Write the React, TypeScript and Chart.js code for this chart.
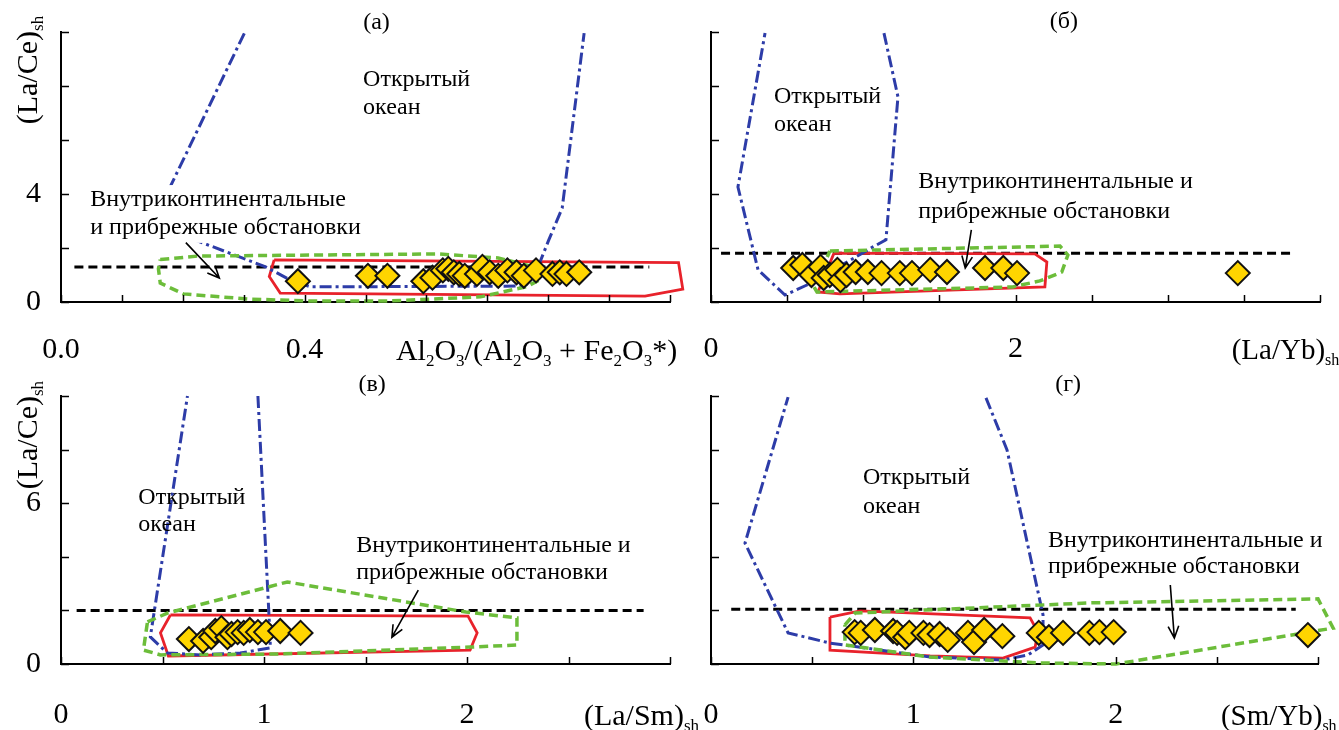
import React, { useEffect, useRef } from 'react';
import { Chart, registerables } from 'chart.js';

Chart.register(...registerables);

const FONT = "'Liberation Serif', 'Times New Roman', serif";
const BLUE = '#2d3ca8';
const RED = '#e8222b';
const GREEN = '#6cbd3a';
const GOLD = '#ffd500';

// ---------- Panel (а): Al2O3/(Al2O3+Fe2O3*) ----------
const aSampleX = [0.389, 0.504, 0.536, 0.595, 0.61, 0.627, 0.636, 0.645, 0.654, 0.663, 0.683, 0.692, 0.704, 0.718, 0.733, 0.748, 0.76, 0.78, 0.807, 0.819, 0.83, 0.851];
const aSampleY = [0.77, 0.97, 0.97, 0.77, 0.9, 1.17, 1.23, 1.1, 1.04, 0.97, 1.04, 1.3, 1.1, 0.97, 1.17, 1.1, 0.97, 1.17, 1.04, 1.1, 1.04, 1.1];
const aOceanX = [0.301, 0.15, 0.336, 0.377, 0.41, 0.762, 0.78, 0.801, 0.823, 0.859];
const aOceanY = [9.95, 2.9, 1.3, 0.81, 0.56, 0.59, 1.11, 2.3, 3.48, 9.96];
const aRedX = [0.35, 1.014, 1.021, 0.959, 0.36, 0.342];
const aRedY = [1.56, 1.46, 0.48, 0.22, 0.33, 0.94];
const aGreenX = [0.163, 0.224, 0.619, 0.718, 0.777, 0.788, 0.765, 0.689, 0.542, 0.406, 0.307, 0.201, 0.163, 0.16];
const aGreenY = [1.57, 1.7, 1.78, 1.63, 1.3, 0.85, 0.57, 0.19, 0.04, 0.04, 0.11, 0.3, 0.7, 1.23];
const aRefX = [0.022, 0.966];
const aRefY = [1.3, 1.3];
const aXTickLabels = ['0.0', '0.4'];
const aYTickLabels = ['0', '4'];

// ---------- Panel (б): (La/Yb)sh ----------
const bSampleX = [0.54, 0.6, 0.66, 0.72, 0.74, 0.78, 0.83, 0.85, 0.89, 0.95, 1.03, 1.12, 1.24, 1.32, 1.44, 1.55, 1.8, 1.92, 2.01, 3.46];
const bSampleY = [1.26, 1.37, 1.0, 1.3, 0.89, 1.0, 1.19, 0.81, 1.0, 1.11, 1.11, 1.07, 1.07, 1.07, 1.19, 1.11, 1.26, 1.26, 1.07, 1.07];
const bOceanX = [1.136, 1.228, 1.149, 1.064, 0.893, 0.63, 0.486, 0.309, 0.177, 0.355];
const bOceanY = [9.96, 7.6, 2.3, 2.04, 1.48, 0.63, 0.26, 1.19, 4.26, 9.96];
const bRedX = [0.808, 2.127, 2.206, 2.193, 0.847, 0.702];
const bRedY = [1.81, 1.78, 1.48, 0.56, 0.3, 0.37];
const bGreenX = [0.781, 2.292, 2.344, 2.304, 2.16, 1.983, 0.696, 0.676];
const bGreenY = [1.89, 2.07, 1.74, 1.11, 0.78, 0.56, 0.37, 0.56];
const bRefX = [0.066, 3.83];
const bRefY = [1.81, 1.81];
const bXTickLabels = ['0', '2'];
const bYTickLabels: string[] = [];

// ---------- Panel (в): (La/Sm)sh ----------
const cSampleX = [0.63, 0.7, 0.74, 0.76, 0.79, 0.82, 0.84, 0.87, 0.9, 0.93, 0.97, 1.01, 1.08, 1.18];
const cSampleY = [0.93, 0.86, 1.0, 1.23, 1.34, 1.0, 1.12, 1.19, 1.16, 1.27, 1.19, 1.19, 1.23, 1.16];
const cOceanX = [0.97, 1.03, 1.031, 0.883, 0.687, 0.524, 0.44, 0.623];
const cOceanY = [10, 1.0, 0.6, 0.41, 0.34, 0.41, 1.01, 10];
const cRedX = [0.539, 2.005, 2.05, 2.015, 0.529, 0.49];
const cRedY = [1.83, 1.79, 1.16, 0.52, 0.3, 1.16];
const cGreenX = [0.426, 0.524, 1.115, 1.995, 2.246, 2.246, 2.015, 1.046, 0.49, 0.406];
const cGreenY = [1.57, 1.9, 3.06, 1.94, 1.72, 0.71, 0.63, 0.37, 0.34, 0.52];
const cRefX = [0.077, 2.87];
const cRefY = [2.0, 2.0];
const cXTickLabels = ['0', '1', '2'];
const cYTickLabels = ['0', '6'];

// ---------- Panel (г): (Sm/Yb)sh ----------
const dSampleX = [0.71, 0.74, 0.81, 0.9, 0.92, 0.96, 0.98, 1.05, 1.08, 1.13, 1.17, 1.27, 1.3, 1.35, 1.44, 1.62, 1.67, 1.74, 1.87, 1.92, 1.99, 2.95];
const dSampleY = [1.19, 1.16, 1.27, 1.23, 1.16, 1.0, 1.16, 1.16, 1.08, 1.12, 0.9, 1.16, 0.82, 1.27, 1.04, 1.16, 1.0, 1.16, 1.16, 1.19, 1.19, 1.08];
const dOceanX = [1.359, 1.463, 1.641, 1.641, 1.567, 1.443, 1.083, 0.588, 0.381, 0.168, 0.381];
const dOceanY = [9.93, 7.99, 1.83, 0.71, 0.34, 0.15, 0.26, 0.78, 1.16, 4.51, 9.96];
const dRedX = [0.588, 0.737, 1.577, 1.616, 1.602, 1.443, 1.083, 0.588];
const dRedY = [1.75, 1.98, 1.72, 1.19, 0.63, 0.22, 0.3, 0.52];
const dGreenX = [0.662, 0.712, 1.873, 3.0, 3.075, 2.002, 1.626, 1.083, 0.662];
const dGreenY = [1.46, 1.9, 2.28, 2.43, 1.34, 0.0, 0.04, 0.26, 0.71];
const dRefX = [0.1, 2.89];
const dRefY = [2.04, 2.04];
const dXTickLabels = ['0', '1', '2'];
const dYTickLabels: string[] = [];

const OCEAN = ['Открытый', 'океан'];
const SHELF1 = ['Внутриконтинентальные', 'и прибрежные обстановки'];
const SHELF2 = ['Внутриконтинентальные и', 'прибрежные обстановки'];

type Seg = { t: string; sub?: boolean };
const yTitleSegs: Seg[] = [{ t: '(La/Ce)' }, { t: 'sh', sub: true }];

function zip(xs: number[], ys: number[], close = false) {
  const pts = xs.map((x, i) => ({ x, y: ys[i] }));
  if (close) pts.push({ ...pts[0] });
  return pts;
}

function drawRich(ctx: CanvasRenderingContext2D, segs: Seg[], x: number, yc: number, size: number, align: 'left' | 'center') {
  const main = `${size}px ${FONT}`;
  const sub = `${Math.round(size * 0.56)}px ${FONT}`;
  let w = 0;
  for (const s of segs) {
    ctx.font = s.sub ? sub : main;
    w += ctx.measureText(s.t).width;
  }
  let cx = align === 'center' ? x - w / 2 : x;
  const base = yc + size * 0.34;
  ctx.textAlign = 'left';
  ctx.textBaseline = 'alphabetic';
  for (const s of segs) {
    ctx.font = s.sub ? sub : main;
    ctx.fillText(s.t, cx, s.sub ? base + size * 0.2 : base);
    cx += ctx.measureText(s.t).width;
  }
}

const decorPlugin = {
  id: 'decor',
  afterDatasetsDraw(chart: any, _args: any, o: any) {
    const ctx: CanvasRenderingContext2D = chart.ctx;
    const sx = chart.scales.x;
    const sy = chart.scales.y;
    const X = (v: number) => sx.getPixelForValue(v);
    const Y = (v: number) => sy.getPixelForValue(v);
    const area = chart.chartArea;
    ctx.save();
    ctx.strokeStyle = '#000';
    ctx.fillStyle = '#000';

    // notes
    for (const n of o.notes) {
      ctx.font = `${o.noteSize}px ${FONT}`;
      const w = ctx.measureText(n.t).width;
      const px = X(n.x);
      const py = Y(n.y);
      if (n.mask) {
        ctx.fillStyle = '#fff';
        ctx.fillRect(px - 3, py - o.noteSize * 0.62, w + 6, o.noteSize * 1.24);
      }
      ctx.fillStyle = '#000';
      ctx.textAlign = 'left';
      ctx.textBaseline = 'middle';
      ctx.fillText(n.t, px, py);
    }

    // arrow
    const a = o.arrow;
    const x1 = X(a.x1), y1 = Y(a.y1), x2 = X(a.x2), y2 = Y(a.y2);
    const ang = Math.atan2(y2 - y1, x2 - x1);
    ctx.lineWidth = 1.6;
    ctx.beginPath();
    ctx.moveTo(x1, y1);
    ctx.lineTo(x2, y2);
    ctx.moveTo(x2 - 13 * Math.cos(ang - 0.42), y2 - 13 * Math.sin(ang - 0.42));
    ctx.lineTo(x2, y2);
    ctx.lineTo(x2 - 13 * Math.cos(ang + 0.42), y2 - 13 * Math.sin(ang + 0.42));
    ctx.stroke();

    // inward ticks
    ctx.lineWidth = 1.5;
    ctx.beginPath();
    const nx = Math.round(o.xMax / o.xStep);
    for (let i = 0; i <= nx; i++) {
      const px = Math.round(X(i * o.xStep)) + 0.5;
      ctx.moveTo(px, area.bottom);
      ctx.lineTo(px, area.bottom - 7);
    }
    const ny = Math.round(o.yMax / o.yStep);
    for (let i = 0; i <= ny; i++) {
      const py = Math.round(Y(i * o.yStep)) + 0.5;
      ctx.moveTo(area.left, py);
      ctx.lineTo(area.left + 8, py);
    }
    ctx.stroke();

    // tick labels
    ctx.font = `${o.tickSize}px ${FONT}`;
    ctx.textBaseline = 'middle';
    ctx.textAlign = 'center';
    for (const lab of o.xLabels) {
      ctx.fillText(lab, X(parseFloat(lab)), area.bottom + o.xLabelGap);
    }
    ctx.textAlign = 'right';
    for (const lab of o.yLabels) {
      ctx.fillText(lab, area.left - 20, Y(parseFloat(lab)));
    }

    // axis titles
    drawRich(ctx, o.xTitle.segs, X(o.xTitle.x), area.bottom + o.xLabelGap, o.axisSize, 'left');
    if (o.yTitle) {
      ctx.save();
      ctx.translate(area.left - 34, Y(o.yTitle.y));
      ctx.rotate(-Math.PI / 2);
      drawRich(ctx, o.yTitle.segs, 0, 0, o.tickSize, 'center');
      ctx.restore();
    }

    // panel title
    ctx.font = `${o.titleSize}px ${FONT}`;
    ctx.textAlign = 'center';
    ctx.textBaseline = 'middle';
    ctx.fillText(o.title.t, X(o.title.x), Y(o.title.y));
    ctx.restore();
  },
};

function lineSet(pts: any[], color: string, width: number, dash: number[], order: number) {
  return {
    data: pts,
    showLine: true,
    borderColor: color,
    borderWidth: width,
    borderDash: dash,
    pointRadius: 0,
    pointHoverRadius: 0,
    fill: false,
    tension: 0,
    clip: false,
    order,
  };
}

function buildDatasets(sx: number[], sy: number[], ox: number[], oy: number[], rx: number[], ry: number[], gx: number[], gy: number[], kx: number[], ky: number[]) {
  return [
    {
      data: zip(sx, sy),
      pointStyle: 'rectRot',
      pointRadius: 12,
      pointHoverRadius: 12,
      backgroundColor: GOLD,
      borderColor: '#111',
      borderWidth: 2,
      showLine: false,
      clip: false,
      order: 0,
    },
    lineSet(zip(gx, gy, true), GREEN, 3.5, [9, 5], 1),
    lineSet(zip(ox, oy), BLUE, 3, [12, 4, 3, 4], 2),
    lineSet(zip(rx, ry, true), RED, 2.8, [], 3),
    lineSet(zip(kx, ky), '#000', 3, [9, 5], 4),
  ];
}

const panels = [
  {
    id: 'a',
    box: { left: 0, top: 0, w: 710, h: 380 },
    padding: { left: 61, right: 40, top: 32, bottom: 78 },
    xMax: 1, xStep: 0.1,
    datasets: buildDatasets(aSampleX, aSampleY, aOceanX, aOceanY, aRedX, aRedY, aGreenX, aGreenY, aRefX, aRefY),
    decor: {
      xMax: 1, xStep: 0.1, yMax: 10, yStep: 2,
      xLabels: aXTickLabels, yLabels: aYTickLabels, xLabelGap: 48,
      tickSize: 30, axisSize: 30, noteSize: 24, titleSize: 24,
      xTitle: { x: 0.55, segs: [{ t: 'Al' }, { t: '2', sub: true }, { t: 'O' }, { t: '3', sub: true }, { t: '/(Al' }, { t: '2', sub: true }, { t: 'O' }, { t: '3', sub: true }, { t: ' + Fe' }, { t: '2', sub: true }, { t: 'O' }, { t: '3', sub: true }, { t: '*)' }] },
      yTitle: { y: 8.59, segs: yTitleSegs },
      title: { t: '(а)', x: 0.518, y: 10.33 },
      notes: [
        { t: OCEAN[0], x: 0.496, y: 8.22 },
        { t: OCEAN[1], x: 0.496, y: 7.19 },
        { t: SHELF1[0], x: 0.048, y: 3.78, mask: true },
        { t: SHELF1[1], x: 0.048, y: 2.74, mask: true },
      ],
      arrow: { x1: 0.205, y1: 2.2, x2: 0.26, y2: 0.89 },
    },
  },
  {
    id: 'b',
    box: { left: 700, top: 0, w: 639, h: 380 },
    padding: { left: 11, right: 19, top: 32, bottom: 78 },
    xMax: 4, xStep: 0.5,
    datasets: buildDatasets(bSampleX, bSampleY, bOceanX, bOceanY, bRedX, bRedY, bGreenX, bGreenY, bRefX, bRefY),
    decor: {
      xMax: 4, xStep: 0.5, yMax: 10, yStep: 2,
      xLabels: bXTickLabels, yLabels: bYTickLabels, xLabelGap: 47,
      tickSize: 30, axisSize: 29, noteSize: 24, titleSize: 24,
      xTitle: { x: 3.42, segs: [{ t: '(La/Yb)' }, { t: 'sh', sub: true }] },
      yTitle: null,
      title: { t: '(б)', x: 2.318, y: 10.37 },
      notes: [
        { t: OCEAN[0], x: 0.414, y: 7.59 },
        { t: OCEAN[1], x: 0.414, y: 6.56 },
        { t: SHELF2[0], x: 1.362, y: 4.44 },
        { t: SHELF2[1], x: 1.362, y: 3.33 },
      ],
      arrow: { x1: 1.71, y1: 2.67, x2: 1.67, y2: 1.26 },
    },
  },
  {
    id: 'c',
    box: { left: 0, top: 365, w: 710, h: 365 },
    padding: { left: 61, right: 40, top: 31, bottom: 66 },
    xMax: 3, xStep: 0.5,
    datasets: buildDatasets(cSampleX, cSampleY, cOceanX, cOceanY, cRedX, cRedY, cGreenX, cGreenY, cRefX, cRefY),
    decor: {
      xMax: 3, xStep: 0.5, yMax: 10, yStep: 2,
      xLabels: cXTickLabels, yLabels: cYTickLabels, xLabelGap: 51,
      tickSize: 30, axisSize: 30, noteSize: 24, titleSize: 24,
      xTitle: { x: 2.576, segs: [{ t: '(La/Sm)' }, { t: 'sh', sub: true }] },
      yTitle: { y: 8.54, segs: yTitleSegs },
      title: { t: '(в)', x: 1.533, y: 10.41 },
      notes: [
        { t: OCEAN[0], x: 0.381, y: 6.21 },
        { t: OCEAN[1], x: 0.381, y: 5.19 },
        { t: SHELF2[0], x: 1.454, y: 4.4 },
        { t: SHELF2[1], x: 1.454, y: 3.41 },
      ],
      arrow: { x1: 1.76, y1: 2.76, x2: 1.63, y2: 1.0 },
    },
  },
  {
    id: 'd',
    box: { left: 700, top: 365, w: 639, h: 365 },
    padding: { left: 11, right: 21, top: 31, bottom: 66 },
    xMax: 3, xStep: 0.5,
    datasets: buildDatasets(dSampleX, dSampleY, dOceanX, dOceanY, dRedX, dRedY, dGreenX, dGreenY, dRefX, dRefY),
    decor: {
      xMax: 3, xStep: 0.5, yMax: 10, yStep: 2,
      xLabels: dXTickLabels, yLabels: dYTickLabels, xLabelGap: 51,
      tickSize: 30, axisSize: 29, noteSize: 24, titleSize: 24,
      xTitle: { x: 2.52, segs: [{ t: '(Sm/Yb)' }, { t: 'sh', sub: true }] },
      yTitle: null,
      title: { t: '(г)', x: 1.765, y: 10.41 },
      notes: [
        { t: OCEAN[0], x: 0.751, y: 6.94 },
        { t: OCEAN[1], x: 0.751, y: 5.86 },
        { t: SHELF2[0], x: 1.666, y: 4.59 },
        { t: SHELF2[1], x: 1.666, y: 3.62 },
      ],
      arrow: { x1: 2.27, y1: 2.95, x2: 2.29, y2: 0.97 },
    },
  },
];

function Panel({ cfg }: { cfg: any }) {
  const ref = useRef<HTMLCanvasElement>(null);
  useEffect(() => {
    const axis = (max: number, step: number) => ({
      type: 'linear',
      min: 0,
      max,
      ticks: { display: false, stepSize: step },
      grid: { display: false, drawTicks: false },
      border: { display: true, color: '#000', width: 2 },
      title: { display: false },
    });
    const chart = new Chart(ref.current as HTMLCanvasElement, {
      type: 'scatter',
      data: { datasets: cfg.datasets },
      options: {
        animation: false,
        responsive: false,
        devicePixelRatio: 1,
        events: [],
        layout: { padding: cfg.padding, autoPadding: false },
        plugins: {
          legend: { display: false },
          tooltip: { enabled: false },
          decor: cfg.decor,
        } as any,
        scales: {
          x: axis(cfg.xMax, cfg.xStep),
          y: axis(10, 2),
        } as any,
      },
      plugins: [decorPlugin as any],
    } as any);
    return () => chart.destroy();
  }, [cfg]);
  return (
    <canvas
      ref={ref}
      width={cfg.box.w}
      height={cfg.box.h}
      style={{ position: 'absolute', left: cfg.box.left, top: cfg.box.top, width: cfg.box.w, height: cfg.box.h }}
    />
  );
}

export default function App() {
  return (
    <div style={{ position: 'absolute', left: 0, top: 0, width: 1339, height: 730, background: '#fff', overflow: 'hidden' }}>
      {panels.map((p) => (
        <Panel key={p.id} cfg={p} />
      ))}
    </div>
  );
}
